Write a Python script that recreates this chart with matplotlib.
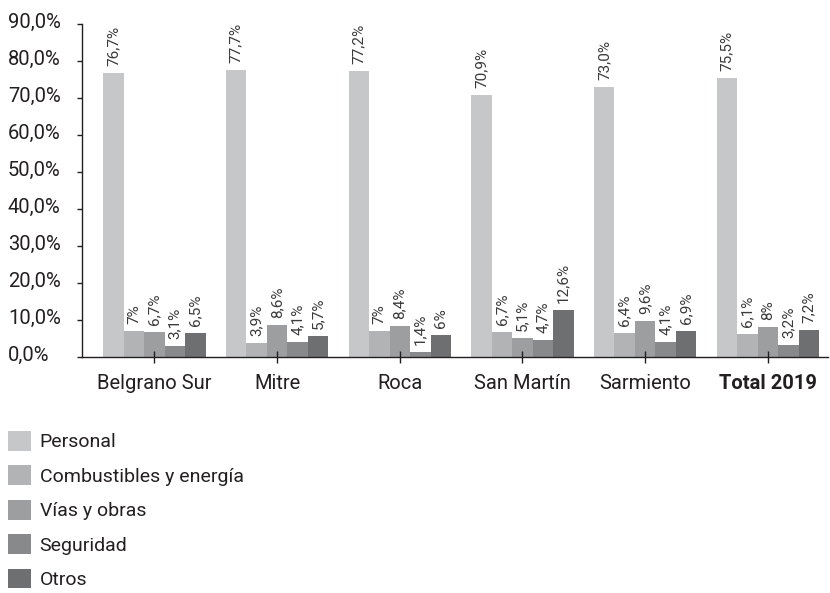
import matplotlib
matplotlib.use("Agg")
import matplotlib.pyplot as plt
import numpy as np
from matplotlib.transforms import offset_copy, ScaledTranslation

plt.rcParams['font.family'] = ['Roboto', 'DejaVu Sans']

categories = ["Belgrano Sur", "Mitre", "Roca", "San Martín", "Sarmiento", "Total 2019"]
series_names = ["Personal", "Combustibles y energía", "Vías y obras", "Seguridad", "Otros"]

# shares in percent, written as they are printed on the bars
personal = ["76,7", "77,7", "77,2", "70,9", "73,0", "75,5"]
combustibles = ["7", "3,9", "7", "6,7", "6,4", "6,1"]
vias = ["6,7", "8,6", "8,4", "5,1", "9,6", "8"]
seguridad = ["3,1", "4,1", "1,4", "4,7", "4,1", "3,2"]
otros = ["6,5", "5,7", "6", "12,6", "6,9", "7,2"]

yticks = [0, 10, 20, 30, 40, 50, 60, 70, 80, 90]
ytick_labels = ["0,0%", "10,0%", "20,0%", "30,0%", "40,0%", "50,0%", "60,0%", "70,0%", "80,0%", "90,0%"]

colors = ["#c6c7c8", "#b2b3b4", "#9d9e9f", "#88898a", "#6e6f71"]
text_color = "#231f20"

W, H = 830, 593
fig = plt.figure(figsize=(W / 100, H / 100), dpi=100)
ax = fig.add_axes([82 / W, 1 - 357 / H, (828 - 82) / W, (357 - 24) / H])

all_series = [personal, combustibles, vias, seguridad, otros]
x = np.arange(len(categories))
bw = 0.167
for i, (name, vals, col) in enumerate(zip(series_names, all_series, colors)):
    nums = [float(v.replace(",", ".")) for v in vals]
    pos = x + (i - 2) * bw
    ax.bar(pos, nums, width=bw, color=col, label=name, linewidth=0)
    trans = offset_copy(ax.transData, fig=fig, x=0, y=7, units="dots")
    for px, v, s in zip(pos, nums, vals):
        ax.text(px, v, s + "%", rotation=90, ha="center", va="bottom",
                fontsize=11, color="#3a3a3a", transform=trans)

ax.set_xlim(-0.59, 5.49)
ax.set_ylim(0, 90)

for side in ["top", "right"]:
    ax.spines[side].set_visible(False)
for side in ["left", "bottom"]:
    ax.spines[side].set_color(text_color)
    ax.spines[side].set_linewidth(1.0)

ax.set_yticks(yticks)
ax.set_yticklabels(ytick_labels)
ax.tick_params(axis="y", direction="out", length=3.6, width=1, color=text_color,
               labelsize=14.5, labelcolor=text_color, pad=49.7)
for lab in ax.get_yticklabels():
    lab.set_horizontalalignment("left")
    lab.set_transform(lab.get_transform() + ScaledTranslation(0, 4 / 100, fig.dpi_scale_trans))

ax.set_xticks(x)
ax.set_xticklabels(categories)
ax.tick_params(axis="x", direction="inout", length=8, width=1, color=text_color,
               labelsize=14.5, labelcolor=text_color, pad=8.5)
ax.get_xticklabels()[-1].set_fontweight("bold")

leg = fig.legend(loc="upper left", bbox_to_anchor=(8 / W, 1 - 431 / H), frameon=False,
                 fontsize=14, handlelength=1.18, handleheight=1.18,
                 handletextpad=0.45, labelspacing=0.72, borderaxespad=0, borderpad=0)
for t in leg.get_texts():
    t.set_color(text_color)

fig.savefig("out.png", dpi=100)
